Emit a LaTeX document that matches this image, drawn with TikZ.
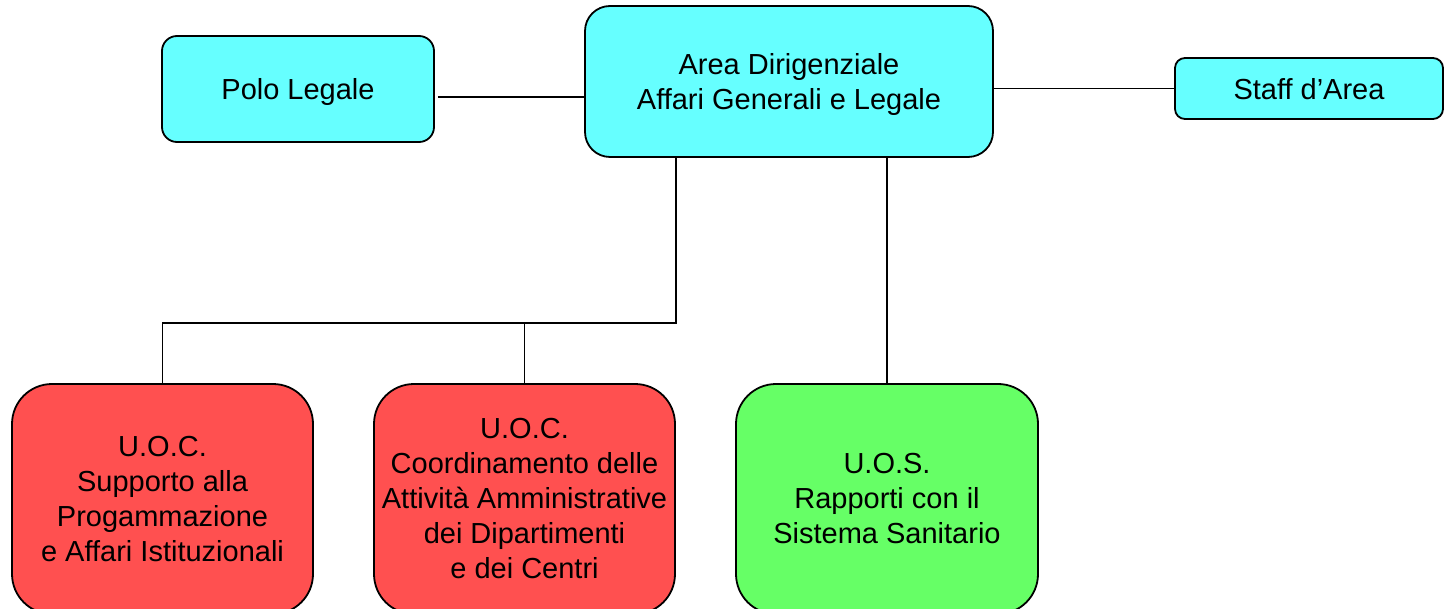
\documentclass[tikz,border=0pt]{standalone}
\usepackage{fontspec}
\setmainfont{Liberation Sans}
\definecolor{cyanbox}{RGB}{102,255,255}
\definecolor{redbox}{RGB}{255,80,80}
\definecolor{greenbox}{RGB}{102,255,102}
\begin{document}
\begin{tikzpicture}[x=1pt,y=-1pt,
  every node/.style={font=\fontsize{29}{35}\selectfont, align=center, inner sep=0pt},
  box/.style={draw=black, line width=1.8pt, rectangle},
  topbox/.style={box, fill=cyanbox, text depth=0pt},
  link/.style={draw=black, line width=1.8pt}]
\useasboundingbox (0,0) rectangle (1445,609);
\clip (0,0) rectangle (1445,609);
\fill[white] (0,0) rectangle (1445,609);
\node[topbox, rounded corners=15pt, minimum width=272pt, minimum height=106pt] (polo) at (298,89) {Polo Legale};
\node[topbox, rounded corners=25pt, minimum width=408pt, minimum height=151pt] (area) at (789,81.5) {Area Dirigenziale\\Affari Generali e Legale};
\node[topbox, rounded corners=10pt, minimum width=268pt, minimum height=61pt] (staff) at (1309,88.5) {Staff d’Area};
\node[box, fill=redbox, rounded corners=40pt, minimum width=301pt, minimum height=230pt] (uoc1) at (162.5,499) {U.O.C.\\Supporto alla\\Progammazione\\e Affari Istituzionali};
\node[box, fill=redbox, rounded corners=40pt, minimum width=301pt, minimum height=230pt] (uoc2) at (524.5,499) {U.O.C.\\Coordinamento delle\\Attività Amministrative\\dei Dipartimenti\\e dei Centri};
\node[box, fill=greenbox, rounded corners=40pt, minimum width=302pt, minimum height=230pt] (uos) at (887,499) {U.O.S.\\Rapporti con il\\Sistema Sanitario};
\coordinate (ypolo) at (0,97);
\coordinate (xl) at (676,0);
\coordinate (xr) at (887,0);
\coordinate (ybus) at (0,323);
\draw[link] ([xshift=3pt]polo.east |- ypolo) -- (area.west |- ypolo);
\draw[link] (area.east |- staff.west) -- (staff.west);
\draw[link] (area.south -| xl) -- (xl |- ybus) -- (uoc1.north |- ybus) -- (uoc1.north);
\draw[link] (uoc2.north |- ybus) -- (uoc2.north);
\draw[link] (area.south -| xr) -- (uos.north);
\end{tikzpicture}
\end{document}
